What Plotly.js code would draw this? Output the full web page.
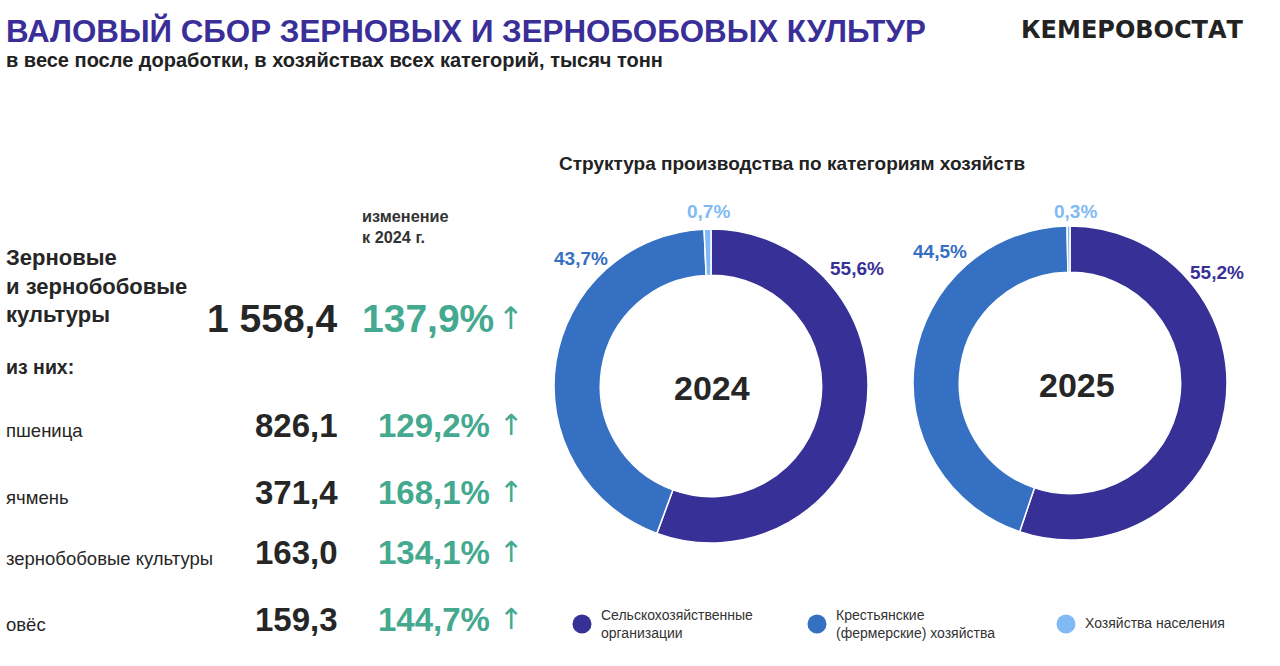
<!DOCTYPE html>
<html><head><meta charset="utf-8">
<script src="https://cdn.plot.ly/plotly-3.0.1.min.js"></script>
<style>html,body{margin:0;padding:0;background:#fff;}#chart{width:1280px;height:666px;}</style>
</head><body><div id="chart"></div>
<script>
// ---- data ----
const categories = ['Сельскохозяйственные организации', 'Крестьянские (фермерские) хозяйства', 'Хозяйства населения'];
const legendLabels = ['Сельскохозяйственные<br>организации', 'Крестьянские<br>(фермерские) хозяйства', 'Хозяйства населения'];
const years = ['2024', '2025'];
const share2024 = [55.6, 43.7, 0.7];
const share2025 = [55.2, 44.5, 0.3];
const totalLabel = 'Зерновые<br>и зернобобовые<br>культуры';
const totalValue = 1558.4;
const totalChange = 137.9;
const crops = ['пшеница', 'ячмень', 'зернобобовые культуры', 'овёс'];
const cropValues = [826.1, 371.4, 163.0, 159.3];
const cropChange = [129.2, 168.1, 134.1, 144.7];

// ---- styles ----
const W = 1280, H = 666;
const colors = ['#373197', '#3570C2', '#80BAF5'];
const green = '#44A98F';
const dark = '#262626';
const SANS = '"Liberation Sans", Arial, sans-serif';
const DJ = '"DejaVu Sans", sans-serif';
const px = x => x / W;
const py = y => 1 - y / H;
function fmt(v) {
  const s = v.toFixed(1).split('.');
  const int = s[0].replace(/\B(?=(\d{3})+(?!\d))/g, ' ');
  return int + ',' + s[1];
}
function pct(v) { return v.toFixed(1).replace('.', ',') + '%'; }

const donuts = [
  {vals: share2024, cx: 711, cy: 386, r: 157, yearX: 712, labelPos: [[857, 268], [581, 259], [708, 212]]},
  {vals: share2025, cx: 1070, cy: 383, r: 157, yearX: 1077, labelPos: [[1217, 272], [940, 251], [1075, 211]]}
];

const traces = donuts.map((d, i) => ({
  type: 'pie',
  values: d.vals,
  labels: categories,
  sort: false,
  direction: 'clockwise',
  rotation: 0,
  hole: 0.705,
  textinfo: 'none',
  hoverinfo: 'skip',
  showlegend: false,
  marker: {colors: colors, line: {color: '#ffffff', width: 1.5}},
  domain: {x: [px(d.cx - d.r), px(d.cx + d.r)], y: [1 - (d.cy + d.r) / H, 1 - (d.cy - d.r) / H]}
}));

const ann = [];
function A(x, y, text, font, xanchor, yanchor) {
  ann.push({xref: 'paper', yref: 'paper', x: px(x), y: py(y), text: text, showarrow: false,
    xanchor: xanchor || 'left', yanchor: yanchor || 'middle', align: xanchor === 'right' ? 'right' : 'left', font: font});
}
// titles
A(4, 31, '<b>ВАЛОВЫЙ СБОР ЗЕРНОВЫХ И ЗЕРНОБОБОВЫХ КУЛЬТУР</b>', {family: SANS, size: 31.3, color: '#3A2F98'});
A(4, 60, '<b>в весе после доработки, в хозяйствах всех категорий, тысяч тонн</b>', {family: SANS, size: 20, color: '#222'});
A(1246, 30, '<b>КЕМЕРОВОСТАТ</b>', {family: DJ, size: 24, color: '#222'}, 'right');
A(557, 163, '<b>Структура производства по категориям хозяйств</b>', {family: SANS, size: 19, color: '#222'});

// left block
A(360, 227, '<b>изменение<br>к 2024 г.</b>', {family: SANS, size: 16.3, color: '#333'});
A(4, 286, '<b>' + totalLabel + '</b>', {family: SANS, size: 22, color: dark});
A(339, 318, '<b>' + fmt(totalValue) + '</b>', {family: SANS, size: 39, color: dark}, 'right');
A(360, 318, '<b>' + pct(totalChange) + '</b>', {family: SANS, size: 39, color: green});
A(511, 318, '↑', {family: DJ, size: 31, color: green}, 'center');
A(4, 367, '<b>из них:</b>', {family: SANS, size: 19.5, color: dark});

const rowY = [425, 492, 552, 619];
const labelY = [430, 497, 558, 624];
crops.forEach((c, i) => {
  A(4, labelY[i], c, {family: SANS, size: 18.5, color: dark});
  A(340, rowY[i], '<b>' + fmt(cropValues[i]) + '</b>', {family: SANS, size: 33, color: dark}, 'right');
  A(376, rowY[i], '<b>' + pct(cropChange[i]) + '</b>', {family: SANS, size: 33, color: green});
  A(511, rowY[i], '↑', {family: DJ, size: 29, color: green}, 'center');
});

// donut labels
donuts.forEach((d, i) => {
  A(d.yearX, d.cy + 2, '<b>' + years[i] + '</b>', {family: SANS, size: 34, color: dark}, 'center');
  d.vals.forEach((v, k) => {
    A(d.labelPos[k][0], d.labelPos[k][1], '<b>' + pct(v) + '</b>', {family: SANS, size: 19, color: colors[k]}, 'center');
  });
});

// legend
const legX = [582, 817, 1066];
const shapes = [];
legendLabels.forEach((l, k) => {
  const r = 9.5;
  shapes.push({type: 'circle', xref: 'paper', yref: 'paper', x0: px(legX[k] - r), x1: px(legX[k] + r),
    y0: py(624 + r), y1: py(624 - r), fillcolor: colors[k], line: {width: 0}});
  A(legX[k] + 17, k === 2 ? 623 : 624, l, {family: SANS, size: 14, color: '#333'});
});

const layout = {
  width: W, height: H,
  margin: {l: 0, r: 0, t: 0, b: 0},
  paper_bgcolor: '#ffffff',
  showlegend: false,
  annotations: ann,
  shapes: shapes
};
Plotly.newPlot('chart', traces, layout, {staticPlot: true, displayModeBar: false});
</script>
</body></html>
